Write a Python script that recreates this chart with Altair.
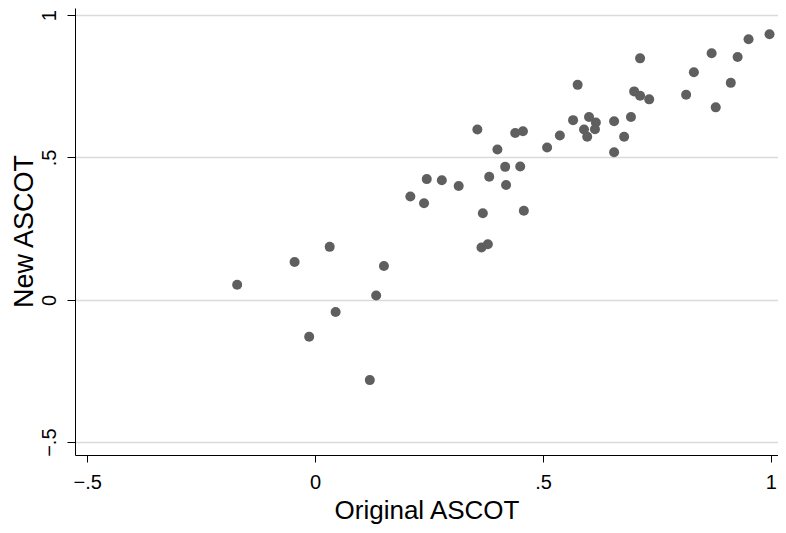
import altair as alt
import pandas as pd

# Original ASCOT (x) vs New ASCOT (y)
original_ascot = [
    -0.171, -0.045, 0.032, -0.013, 0.045, 0.134, 0.151, 0.120, 0.209, 0.239,
    0.245, 0.278, 0.315, 0.356, 0.368, 0.365, 0.379, 0.382, 0.400, 0.417,
    0.450, 0.419, 0.458, 0.439, 0.456, 0.509, 0.537, 0.566, 0.576, 0.601,
    0.616, 0.590, 0.614, 0.597, 0.656, 0.693, 0.678, 0.656, 0.700, 0.713,
    0.733, 0.713, 0.814, 0.831, 0.870, 0.879, 0.912, 0.927, 0.951, 0.997,
]
new_ascot = [
    0.053, 0.133, 0.186, -0.130, -0.043, 0.015, 0.119, -0.282, 0.363, 0.339,
    0.424, 0.420, 0.400, 0.598, 0.304, 0.184, 0.195, 0.432, 0.528, 0.467,
    0.468, 0.403, 0.313, 0.586, 0.592, 0.535, 0.577, 0.631, 0.755, 0.642,
    0.623, 0.598, 0.599, 0.573, 0.627, 0.642, 0.573, 0.518, 0.732, 0.717,
    0.704, 0.848, 0.720, 0.799, 0.866, 0.676, 0.762, 0.853, 0.915, 0.933,
]
tick_values = [-0.5, 0, 0.5, 1]

df = pd.DataFrame({"orig": original_ascot, "new": new_ascot})

label_expr = "datum.value == 0 ? '0' : replace(format(datum.value, '.1~f'), '0.', '.')"
FONT = "Liberation Sans"

chart = (
    alt.Chart(df)
    .mark_circle(size=100, color="#5f5f5f", opacity=1)
    .encode(
        x=alt.X(
            "orig:Q",
            title="Original ASCOT",
            scale=alt.Scale(domain=[-0.5268, 1.0156], nice=False, zero=False),
            axis=alt.Axis(
                values=tick_values,
                labelExpr=label_expr,
                grid=False,
                domainColor="black",
                domainWidth=1,
                tickColor="black",
                tickSize=7,
                tickWidth=1,
                labelFont=FONT,
                labelFontSize=20,
                labelColor="black",
                labelPadding=10,
                labelFlush=False,
                labelOverlap=False,
                titleFont=FONT,
                titleFontSize=26,
                titleFontWeight="normal",
                titleColor="black",
                titlePadding=5,
            ),
        ),
        y=alt.Y(
            "new:Q",
            title="New ASCOT",
            scale=alt.Scale(domain=[-0.545, 1.0249], nice=False, zero=False),
            axis=alt.Axis(
                values=tick_values,
                labelExpr=label_expr,
                grid=True,
                gridColor="#dadada",
                gridWidth=1.6,
                domainColor="black",
                domainWidth=1,
                tickColor="black",
                tickSize=8,
                tickWidth=1,
                labelFont=FONT,
                labelFontSize=20,
                labelColor="black",
                labelAngle=270,
                labelAlign="center",
                labelBaseline="bottom",
                labelPadding=8,
                labelFlush=False,
                labelOverlap=False,
                titleFont=FONT,
                titleFontSize=27,
                titleFontWeight="normal",
                titleColor="black",
                titleAngle=270,
                titleBaseline="top",
                titleAlign="center",
                titleX=-64,
                titleY=223,
            ),
        ),
    )
    .properties(
        width=703,
        height=447,
        autosize=alt.AutoSizeParams(type="none"),
        padding={"left": 67, "right": 0, "top": 0, "bottom": 70},
        background="white",
    )
    .configure_view(stroke=None)
)

chart.save("out.html", embed_options={"renderer": "svg", "actions": False})
